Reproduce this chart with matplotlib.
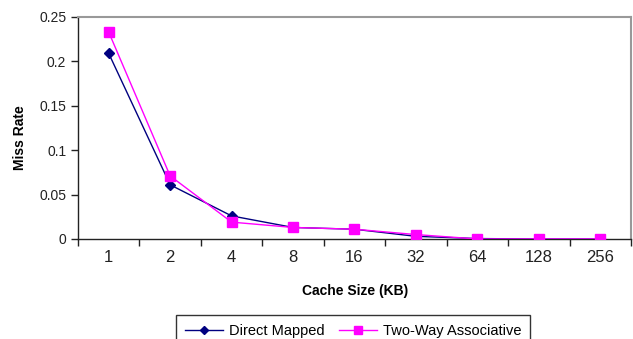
import matplotlib
matplotlib.use("Agg")
import matplotlib.pyplot as plt
import numpy as np

categories = ["1", "2", "4", "8", "16", "32", "64", "128", "256"]
direct_mapped = [0.209, 0.061, 0.026, 0.013, 0.011, 0.003, 0.0005, 0.0, 0.0]
two_way = [0.233, 0.071, 0.019, 0.013, 0.011, 0.005, 0.0, 0.0, 0.0]
y_ticks = [0, 0.05, 0.1, 0.15, 0.2, 0.25]
y_labels = ["0", "0.05", "0.1", "0.15", "0.2", "0.25"]

plt.rcParams['font.family'] = ['Liberation Sans', 'DejaVu Sans']

fig = plt.figure(figsize=(6.33, 3.39), dpi=100)
ax = fig.add_axes([78/633, 1-239/339, (631-78)/633, (239-17)/339])

x = np.arange(len(categories))
ax.plot(x, direct_mapped, color='#000080', lw=1.0, marker='D', ms=5,
        label='Direct Mapped', zorder=3)
ax.plot(x, two_way, color='#FF00FF', lw=1.0, marker='s', ms=6.5,
        label='Two-Way Associative', zorder=4)

ax.set_xlim(-0.5, len(categories) - 0.5)
ax.set_ylim(0, 0.25)
ax.set_xticks(np.arange(-0.5, len(categories)), labels=[])
ax.set_xticks(x, minor=True)
ax.set_xticklabels(categories, minor=True, fontsize=12, color='#222222')
ax.tick_params(axis='x', which='major', direction='out', length=5, width=1, color='#222222')
ax.tick_params(axis='x', which='minor', length=0, pad=8)
ax.set_yticks(y_ticks, labels=y_labels, fontsize=10, color='#222222')
ax.tick_params(axis='y', direction='out', length=5, width=1, color='#222222')

for s in ['top', 'right']:
    ax.spines[s].set_color('#999999')
    ax.spines[s].set_linewidth(1.5)
for s in ['left', 'bottom']:
    ax.spines[s].set_color('#222222')
    ax.spines[s].set_linewidth(1.0)

fig.text(355/633, 1-291/339, 'Cache Size (KB)', fontsize=10, fontweight='bold',
         ha='center', va='center')
fig.text(20/633, 1-138/339, 'Miss Rate', fontsize=10, fontweight='bold',
         ha='center', va='center', rotation=90)

leg = fig.legend(loc='upper center', bbox_to_anchor=(353/633, 1-315/339), ncol=2,
                 frameon=True, fancybox=False, edgecolor='black', fontsize=10.5,
                 handlelength=2.6, borderpad=0.6, columnspacing=1.0, handletextpad=0.4,
                 borderaxespad=0, markerscale=0.8)
leg.get_frame().set_linewidth(1.0)

fig.savefig('out.png', dpi=100)
